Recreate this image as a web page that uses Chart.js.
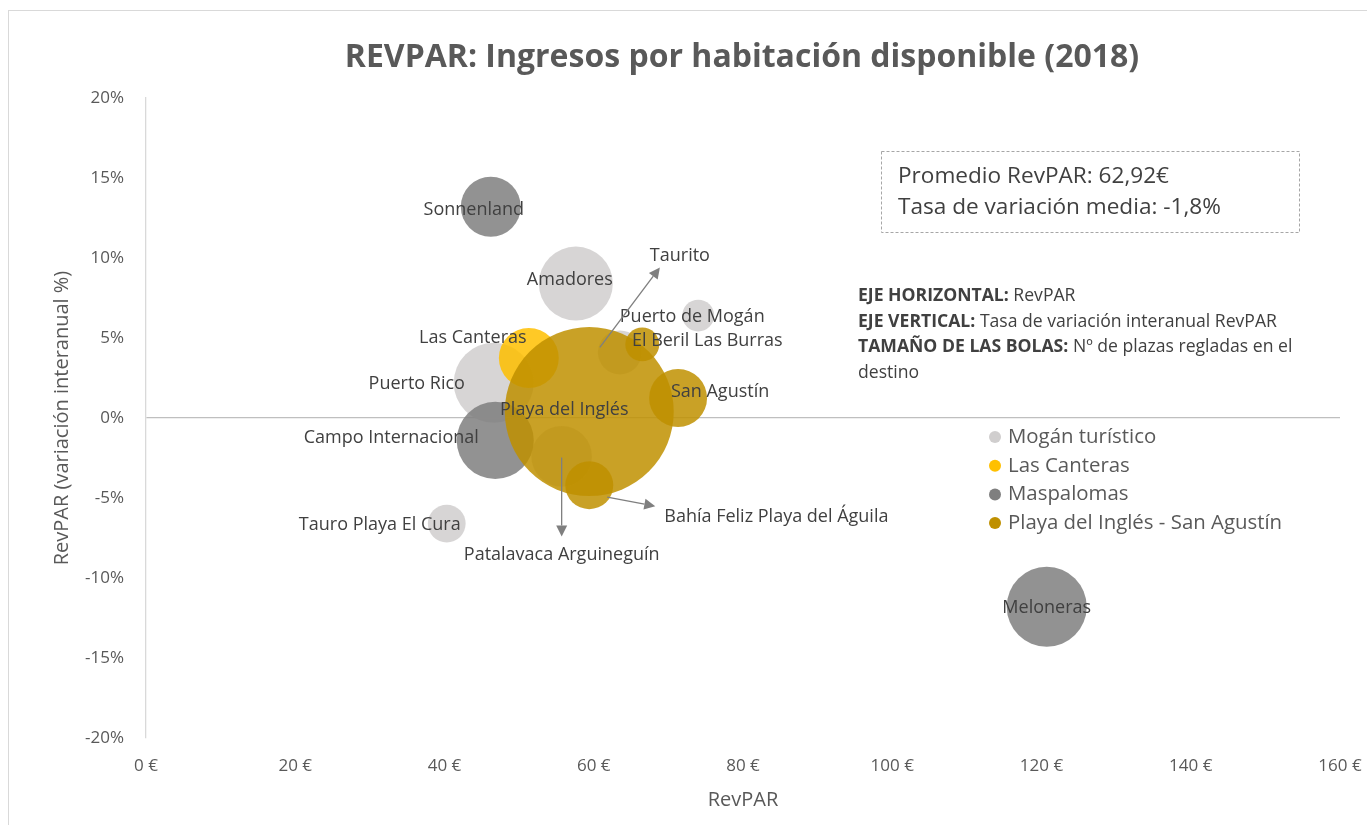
<!DOCTYPE html>
<html lang="es">
<head>
<meta charset="UTF-8">
<title>REVPAR: Ingresos por habitación disponible (2018)</title>
<script src="https://cdn.jsdelivr.net/npm/chart.js"></script>
<style>
  html, body { margin: 0; padding: 0; background: #fff; }
  #wrap { width: 1367px; height: 825px; }
</style>
</head>
<body>
<div id="wrap"><canvas id="revpar" width="1367" height="825"></canvas></div>
<script>
// Datos por destino: RevPAR (€), variación interanual (%), nº de plazas regladas
const moganNombres = ['Amadores', 'Puerto de Mogán', 'Taurito', 'Puerto Rico', 'Patalavaca Arguineguín', 'Tauro Playa El Cura'];
const moganRevpar = [57.6, 74.0, 63.5, 46.6, 55.7, 40.3];
const moganVariacion = [8.4, 6.4, 4.1, 2.2, -2.4, -6.6];
const moganPlazas = [11900, 2200, 4200, 13900, 8000, 3100];

const canterasNombres = ['Las Canteras'];
const canterasRevpar = [51.3];
const canterasVariacion = [3.75];
const canterasPlazas = [7800];

const maspalomasNombres = ['Sonnenland', 'Campo Internacional', 'Meloneras'];
const maspalomasRevpar = [46.2, 46.8, 120.7];
const maspalomasVariacion = [13.2, -1.4, -11.8];
const maspalomasPlazas = [7800, 12900, 13900];

const inglesNombres = ['Playa del Inglés', 'El Beril Las Burras', 'San Agustín', 'Bahía Feliz Playa del Águila'];
const inglesRevpar = [59.4, 66.5, 71.3, 59.4];
const inglesVariacion = [0.4, 4.6, 1.25, -4.2];
const inglesPlazas = [62000, 2500, 7300, 5000];

const series = ['Mogán turístico', 'Las Canteras', 'Maspalomas', 'Playa del Inglés - San Agustín'];
const xTicks = [0, 20, 40, 60, 80, 100, 120, 140, 160];
const yTicks = [-20, -15, -10, -5, 0, 5, 10, 15, 20];

// Estilo
const FONT = '"Open Sans", "Noto Sans", sans-serif';
const TEXT = '#404040';
const AXIS_TEXT = '#595959';
const colores = ['rgba(208,206,206,0.85)', 'rgba(255,192,0,0.85)', 'rgba(127,127,127,0.85)', 'rgba(191,144,0,0.85)'];
const legendColors = ['#D0CECE', '#FFC000', '#7F7F7F', '#BF9000'];
const MAX_R = 84.5;
const maxPlazas = Math.max(...moganPlazas, ...canterasPlazas, ...maspalomasPlazas, ...inglesPlazas);

// posición de las etiquetas respecto al centro de la burbuja (px)
const labelOffsets = {
  'Amadores': [-6, -4], 'Puerto de Mogán': [-6, 1], 'Taurito': [60, -97],
  'Puerto Rico': [-77, 1], 'Patalavaca Arguineguín': [0, 98], 'Tauro Playa El Cura': [-67, 1],
  'Las Canteras': [-56, -20], 'Sonnenland': [-17, 3], 'Campo Internacional': [-104, -3],
  'Meloneras': [0, 1], 'Playa del Inglés': [-25, -2], 'El Beril Las Burras': [65, -4],
  'San Agustín': [42, -6], 'Bahía Feliz Playa del Águila': [75, 32, 'left']
};
// flechas de etiquetas alejadas: [dx1, dy1, dx2, dy2]
const arrows = {
  'Taurito': [-20, -5, 40, -85],
  'Patalavaca Arguineguín': [0, 1, 0, 80],
  'Bahía Feliz Playa del Águila': [18, 12, 66, 21]
};

function bolas(nombres, xs, ys, plazas) {
  return nombres.map((n, i) => ({ x: xs[i], y: ys[i], r: MAX_R * Math.sqrt(plazas[i] / maxPlazas), name: n }));
}

function drawArrow(ctx, x1, y1, x2, y2) {
  const ang = Math.atan2(y2 - y1, x2 - x1);
  const len = 11, half = 5.5;
  ctx.save();
  ctx.strokeStyle = '#7f7f7f';
  ctx.fillStyle = '#7f7f7f';
  ctx.lineWidth = 1.3;
  ctx.beginPath();
  ctx.moveTo(x1, y1);
  ctx.lineTo(x2 - len * Math.cos(ang), y2 - len * Math.sin(ang));
  ctx.stroke();
  ctx.beginPath();
  ctx.moveTo(x2, y2);
  ctx.lineTo(x2 - len * Math.cos(ang) + half * Math.sin(ang), y2 - len * Math.sin(ang) - half * Math.cos(ang));
  ctx.lineTo(x2 - len * Math.cos(ang) - half * Math.sin(ang), y2 - len * Math.sin(ang) + half * Math.cos(ang));
  ctx.closePath();
  ctx.fill();
  ctx.restore();
}

const decoracion = {
  id: 'decoracion',
  afterDatasetsDraw(chart) {
    const ctx = chart.ctx;
    ctx.save();
    ctx.textBaseline = 'middle';
    ctx.fillStyle = TEXT;
    ctx.font = '18px ' + FONT;
    chart.data.datasets.forEach((ds, di) => {
      const meta = chart.getDatasetMeta(di);
      ds.data.forEach((p, j) => {
        const el = meta.data[j];
        const off = labelOffsets[p.name] || [0, 0];
        const arr = arrows[p.name];
        if (arr) drawArrow(ctx, el.x + arr[0], el.y + arr[1], el.x + arr[2], el.y + arr[3]);
        ctx.fillStyle = TEXT;
        ctx.textAlign = off[2] || 'center';
        ctx.fillText(p.name, el.x + off[0], el.y + off[1]);
      });
    });
    ctx.restore();
  },
  afterDraw(chart) {
    const ctx = chart.ctx;
    const area = chart.chartArea;
    ctx.save();
    // marco
    ctx.strokeStyle = '#d9d9d9';
    ctx.lineWidth = 1;
    ctx.strokeRect(8.5, 10.5, 1400, 900);

    // título
    ctx.fillStyle = AXIS_TEXT;
    ctx.textAlign = 'center';
    ctx.textBaseline = 'middle';
    ctx.font = 'bold 32px ' + FONT;
    ctx.fillText('REVPAR: Ingresos por habitación disponible (2018)', 742, 58);

    // títulos de ejes
    ctx.font = '20px ' + FONT;
    ctx.fillText('RevPAR', (area.left + area.right) / 2, 800);
    ctx.save();
    ctx.translate(62, (area.top + area.bottom) / 2);
    ctx.rotate(-Math.PI / 2);
    ctx.font = '20px ' + FONT;
    ctx.fillText('RevPAR (variación interanual %)', 0, 0);
    ctx.restore();

    // cuadro de promedios
    ctx.setLineDash([3, 2]);
    ctx.strokeStyle = '#a6a6a6';
    ctx.strokeRect(881.5, 151.5, 418, 81);
    ctx.setLineDash([]);
    ctx.fillStyle = TEXT;
    ctx.textAlign = 'left';
    ctx.font = '22.6px ' + FONT;
    ctx.fillText('Promedio RevPAR: 62,92€', 898, 177);
    ctx.fillText('Tasa de variación media: -1,8%', 898, 208);

    // notas
    const notas = [
      ['EJE HORIZONTAL:', ' RevPAR'],
      ['EJE VERTICAL:', ' Tasa de variación interanual RevPAR'],
      ['TAMAÑO DE LAS BOLAS:', ' Nº de plazas regladas en el'],
      ['', 'destino']
    ];
    notas.forEach((n, i) => {
      const y = 296 + i * 25.7;
      ctx.font = 'bold 17.6px ' + FONT;
      ctx.fillText(n[0], 858, y);
      const w = ctx.measureText(n[0]).width;
      ctx.font = '17.6px ' + FONT;
      ctx.fillText(n[1], 858 + w, y);
    });

    // leyenda
    ctx.font = '20.4px ' + FONT;
    series.forEach((s, i) => {
      const y = 437 + i * 28.7;
      ctx.beginPath();
      ctx.fillStyle = legendColors[i];
      ctx.arc(995, y, 6, 0, Math.PI * 2);
      ctx.fill();
      ctx.fillStyle = AXIS_TEXT;
      ctx.fillText(s, 1008, y);
    });
    ctx.restore();
  }
};

const ctx = document.getElementById('revpar').getContext('2d');
new Chart(ctx, {
  type: 'bubble',
  data: {
    datasets: [
      { label: series[0], data: bolas(moganNombres, moganRevpar, moganVariacion, moganPlazas), backgroundColor: colores[0], order: 4 },
      { label: series[1], data: bolas(canterasNombres, canterasRevpar, canterasVariacion, canterasPlazas), backgroundColor: colores[1], order: 3 },
      { label: series[2], data: bolas(maspalomasNombres, maspalomasRevpar, maspalomasVariacion, maspalomasPlazas), backgroundColor: colores[2], order: 2 },
      { label: series[3], data: bolas(inglesNombres, inglesRevpar, inglesVariacion, inglesPlazas), backgroundColor: colores[3], order: 1 }
    ]
  },
  options: {
    responsive: false,
    animation: false,
    events: [],
    clip: false,
    elements: { point: { borderWidth: 0 } },
    layout: { autoPadding: false, padding: { top: 98, right: 27, bottom: 0, left: 0 } },
    plugins: { legend: { display: false }, tooltip: { enabled: false } },
    scales: {
      x: {
        type: 'linear', min: 0, max: 160,
        afterBuildTicks: s => { s.ticks = xTicks.map(v => ({ value: v })); },
        afterFit: s => { s.height = 87; s.paddingLeft = 0; s.paddingRight = 0; },
        grid: { display: false, drawTicks: false },
        border: { display: false },
        ticks: { padding: 18, color: AXIS_TEXT, font: { family: FONT, size: 17 }, callback: v => v + ' €', maxRotation: 0 }
      },
      y: {
        type: 'linear', min: -20, max: 20,
        afterBuildTicks: s => { s.ticks = yTicks.map(v => ({ value: v })); },
        afterFit: s => { s.width = 146; s.paddingTop = 0; s.paddingBottom = 0; },
        grid: { drawTicks: false, lineWidth: 1.3, color: c => c.tick && c.tick.value === 0 ? '#bfbfbf' : 'rgba(0,0,0,0)' },
        border: { display: true, color: '#d9d9d9', width: 1.3 },
        ticks: { padding: 22, color: AXIS_TEXT, font: { family: FONT, size: 17 }, callback: v => v + '%' }
      }
    }
  },
  plugins: [decoracion]
});
</script>
</body>
</html>
